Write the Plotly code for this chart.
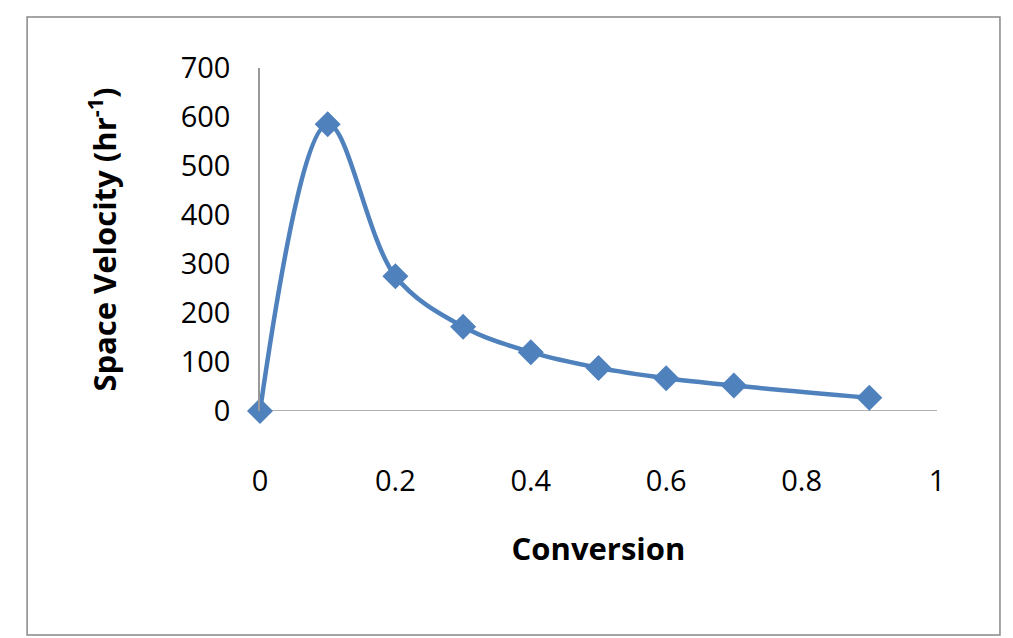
import plotly.graph_objects as go

conversion = [0, 0.1, 0.2, 0.3, 0.4, 0.5, 0.6, 0.7, 0.9]
space_velocity = [0, 585, 275, 172, 120, 88, 67, 52, 27]
x_ticks = [0, 0.2, 0.4, 0.6, 0.8, 1]
y_ticks = [0, 100, 200, 300, 400, 500, 600, 700]

fig = go.Figure(go.Scatter(
    x=conversion, y=space_velocity, mode="lines+markers",
    line=dict(color="#4F81BD", width=4.5, shape="spline", smoothing=1.0),
    marker=dict(symbol="diamond", size=20, color="#4F81BD"),
    showlegend=False, cliponaxis=False))

font = "Open Sans"
fig.update_layout(
    width=1013, height=638, paper_bgcolor="white", plot_bgcolor="white",
    margin=dict(l=252, r=84, t=60, b=235),
    font=dict(family=font, color="black"),
    xaxis=dict(range=[0, 1], tickvals=x_ticks, ticktext=[f"{v:g}" for v in x_ticks],
               showgrid=False, zeroline=False, showline=False, ticks="",
               tickfont=dict(size=29), ticklabelstandoff=50,
               title=dict(text="<b>Conversion</b>", font=dict(size=31), standoff=40)),
    yaxis=dict(range=[0, 700], tickvals=y_ticks, showgrid=False, zeroline=False,
               showline=True, linecolor="#999", linewidth=1.5, ticks="",
               tickfont=dict(size=29), ticklabelstandoff=22,
               title=dict(text="<b>Space Velocity (hr<sup>-1</sup>)</b>", font=dict(size=31), standoff=55)),
    shapes=[
        dict(type="line", xref="paper", yref="y", x0=0, x1=1, y0=0, y1=0,
             line=dict(color="#999", width=1.5), layer="below"),
        dict(type="rect", xref="paper", yref="paper", x0=-0.344, x1=1.093, y0=-0.653, y1=1.149,
             line=dict(color="#888", width=1.5)),
    ],
)
fig.write_html("out.html")
